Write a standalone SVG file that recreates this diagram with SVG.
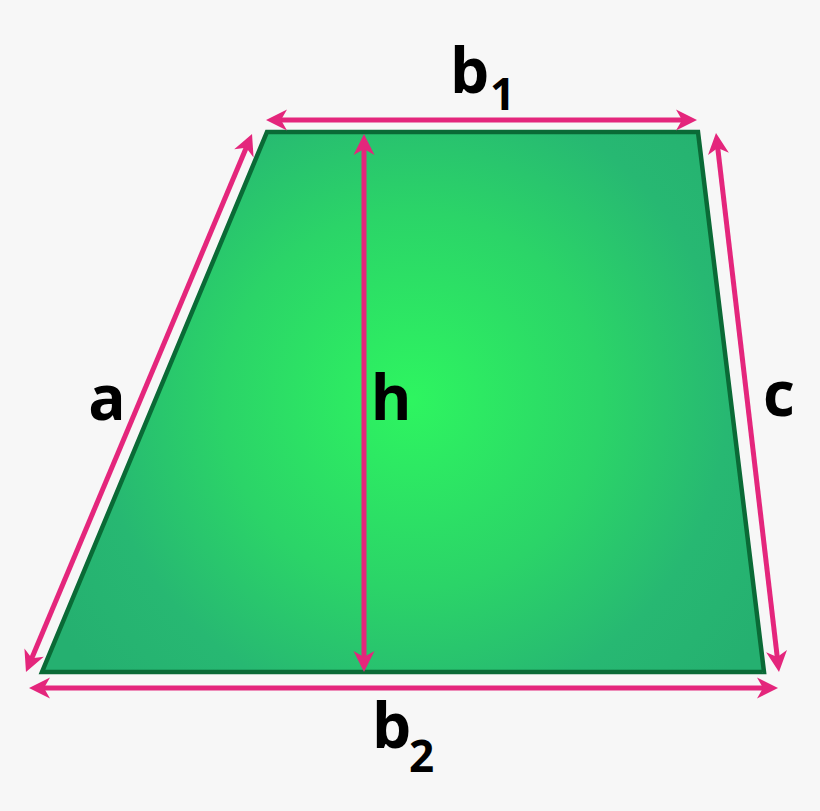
<svg xmlns="http://www.w3.org/2000/svg" width="820" height="811" viewBox="0 0 820 811">
  <style>
    .dim { stroke: #e4267c; stroke-width: 5; fill: none; marker-start: url(#head); marker-end: url(#head); }
    .lbl { font-family: "Open Sans", "DejaVu Sans", sans-serif; font-weight: 700; fill: #000; }
    .big { font-size: 62px; }
    .sub { font-size: 44px; }
  </style>
  <defs>
    <radialGradient id="fillGrad" gradientUnits="userSpaceOnUse" cx="412" cy="400" r="420">
      <stop offset="0" stop-color="#2ef560"/>
      <stop offset="0.45" stop-color="#2bd468"/>
      <stop offset="0.75" stop-color="#27b872"/>
      <stop offset="1" stop-color="#25b070"/>
    </radialGradient>
    <marker id="head" markerUnits="userSpaceOnUse" viewBox="-16 -12 24 24" refX="0" refY="0" markerWidth="24" markerHeight="24" orient="auto-start-reverse">
      <path d="M6,0 L-15,-10.5 L-9,0 L-15,10.5 Z" fill="#e4267c"/>
    </marker>
  </defs>
  <rect width="820" height="811" fill="#f7f7f7"/>

  <g id="trapezoid">
    <polygon points="267,132 698,132 764,672 42,672" fill="url(#fillGrad)" stroke="#0a6a36" stroke-width="4.5" stroke-linejoin="miter"/>
  </g>

  <g id="connectors">
    <line id="dim-b1" class="dim" x1="272" y1="120" x2="691" y2="120"/>
    <line id="dim-b2" class="dim" x1="35" y1="688" x2="772" y2="688"/>
    <line id="dim-h" class="dim" x1="364" y1="140" x2="364" y2="666"/>
    <line id="dim-a" class="dim" x1="249.7" y1="139.5" x2="28.3" y2="666.5"/>
    <line id="dim-c" class="dim" x1="716.7" y1="139" x2="778.3" y2="666"/>
  </g>

  <g id="label-b1">
    <text class="lbl big" x="450" y="93">b</text>
    <text class="lbl sub" x="490" y="110">1</text>
  </g>
  <g id="label-b2">
    <text class="lbl big" x="372" y="748">b</text>
    <text class="lbl sub" x="409" y="772">2</text>
  </g>
  <g id="label-a">
    <text class="lbl big" x="107" y="420" text-anchor="middle">a</text>
  </g>
  <g id="label-h">
    <text class="lbl big" x="391" y="420" text-anchor="middle">h</text>
  </g>
  <g id="label-c">
    <text class="lbl big" x="779" y="416" text-anchor="middle">c</text>
  </g>
</svg>
